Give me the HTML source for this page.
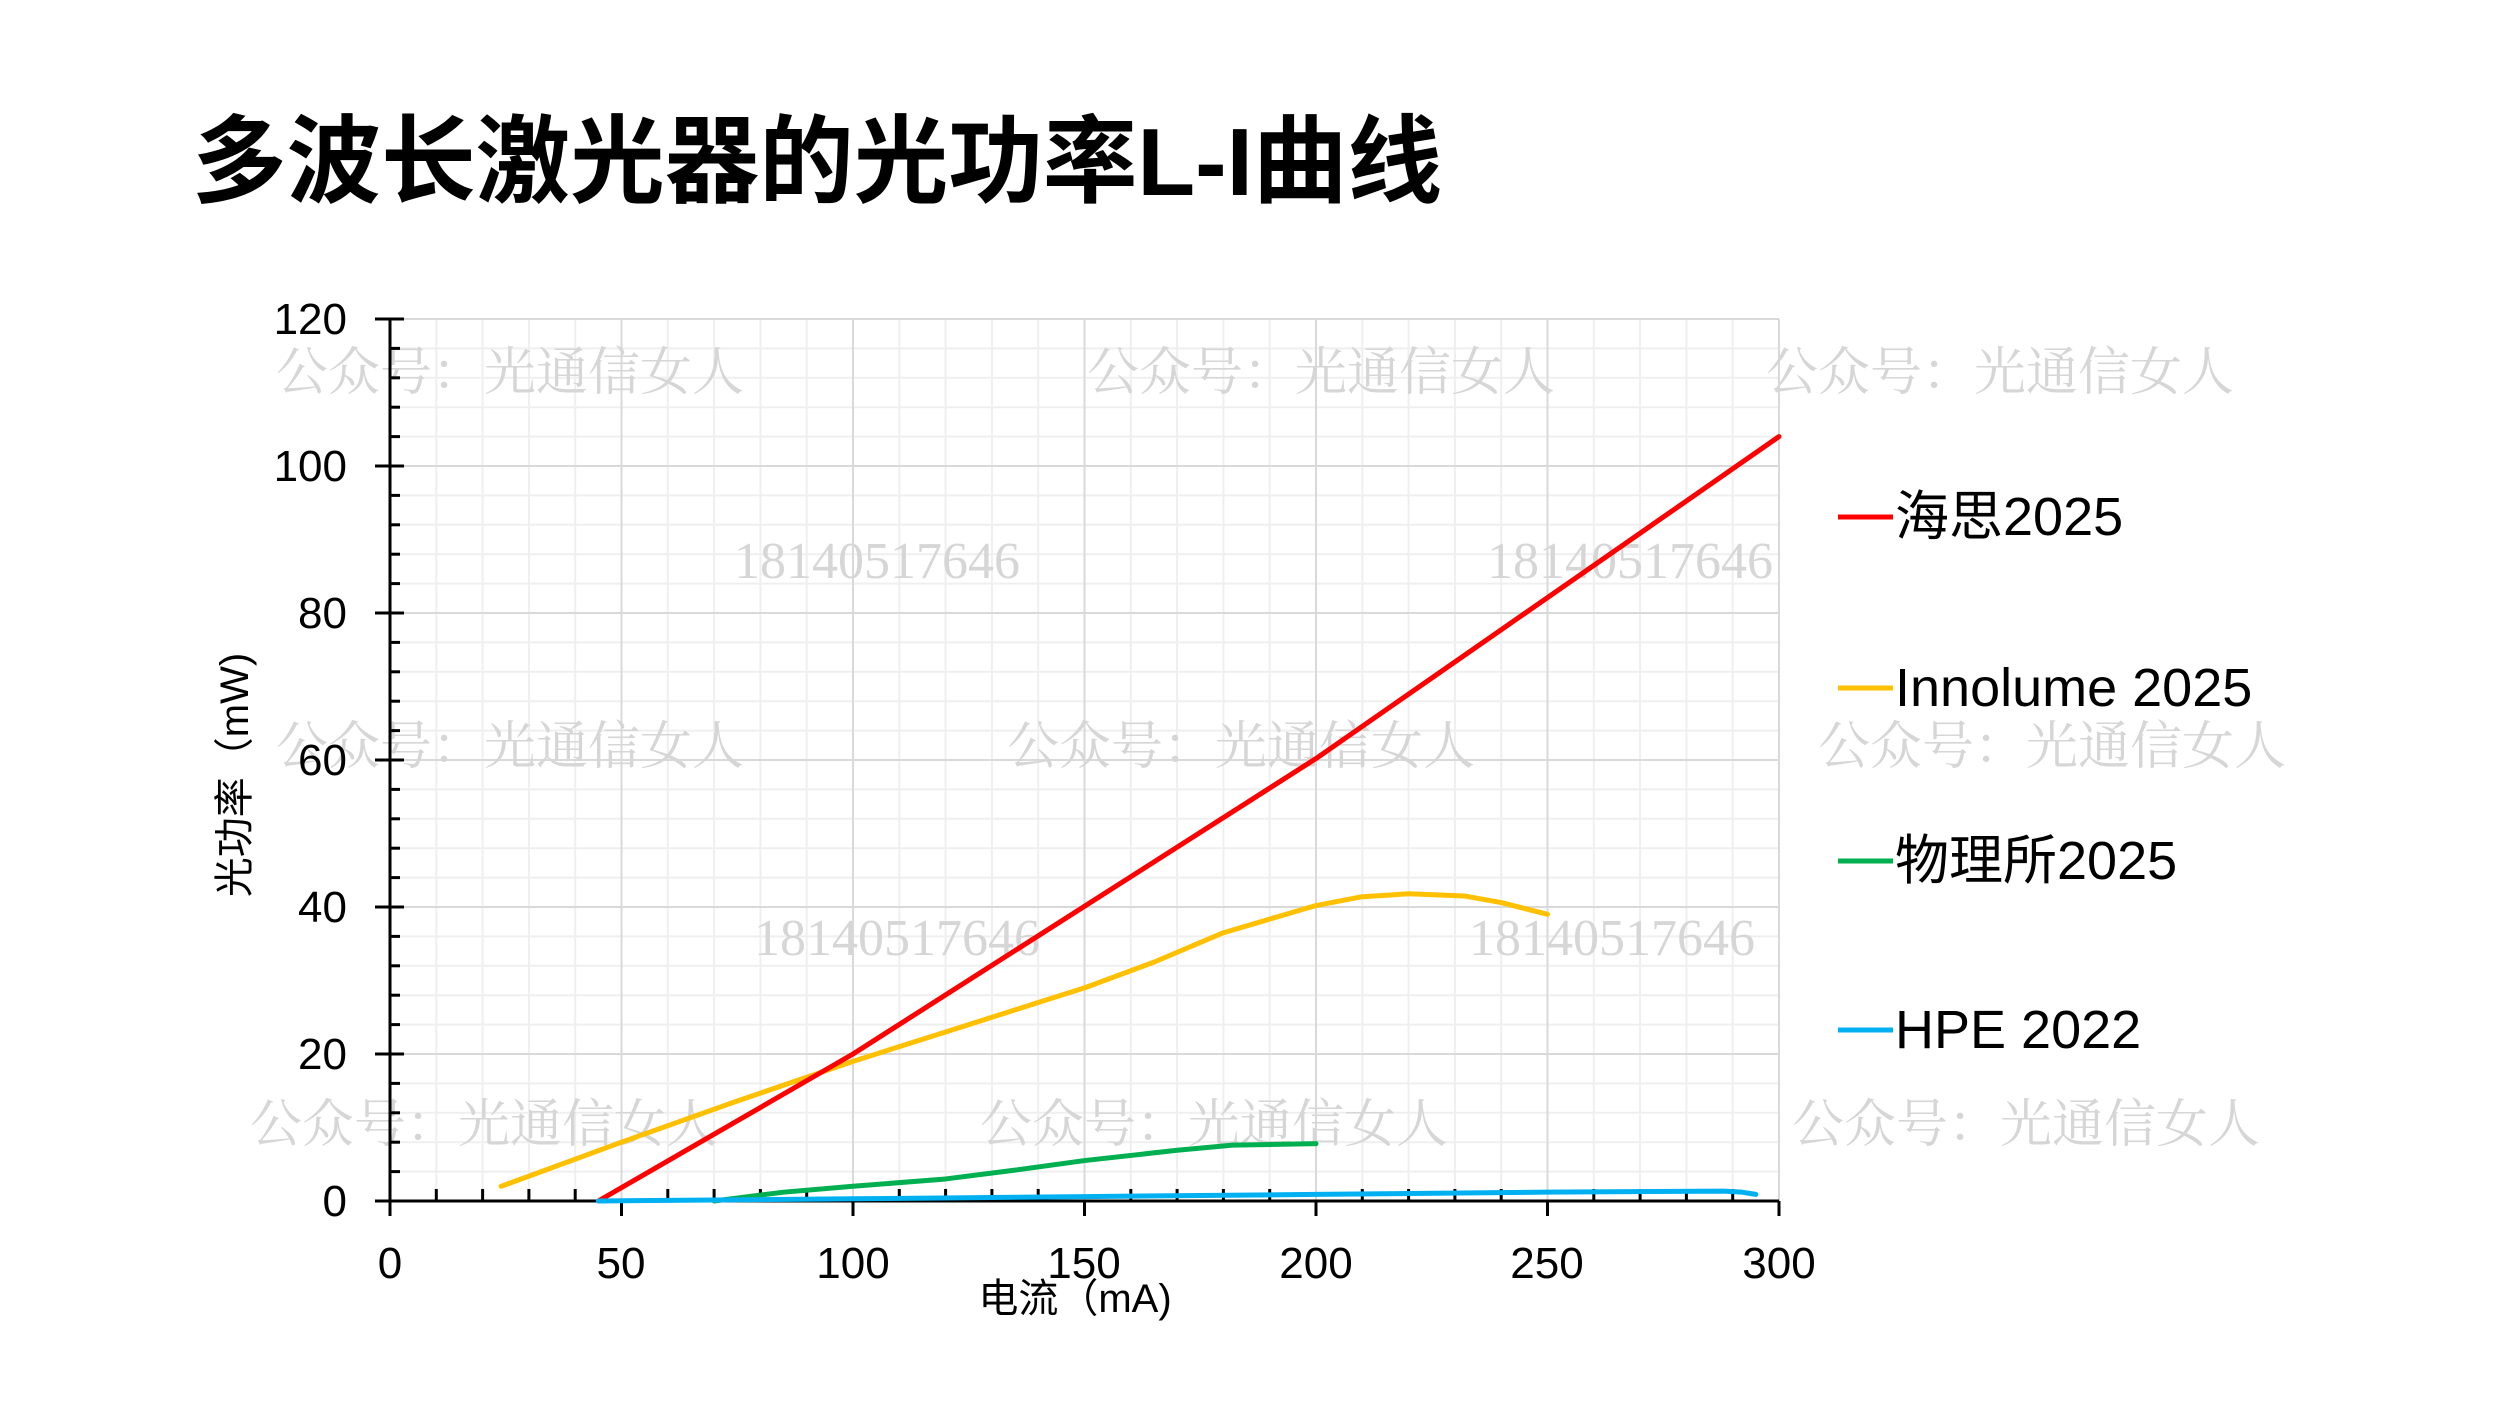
<!DOCTYPE html>
<html><head><meta charset="utf-8"><style>
html,body{margin:0;padding:0;background:#fff;}
svg{display:block;}
</style></head><body>
<svg width="2500" height="1406" viewBox="0 0 2500 1406" xmlns="http://www.w3.org/2000/svg">
<rect width="2500" height="1406" fill="#fff"/>
<text x="192" y="195" textLength="1250" lengthAdjust="spacingAndGlyphs" font-family="'Liberation Sans','Noto Sans CJK SC',sans-serif" font-weight="bold" font-size="96" fill="#000">多波长激光器的光功率L-I曲线</text>
<g stroke="#efefef" stroke-width="2">
<line x1="436.3" y1="319" x2="436.3" y2="1201"/><line x1="482.6" y1="319" x2="482.6" y2="1201"/><line x1="528.9" y1="319" x2="528.9" y2="1201"/><line x1="575.2" y1="319" x2="575.2" y2="1201"/>
<line x1="667.8" y1="319" x2="667.8" y2="1201"/><line x1="714.1" y1="319" x2="714.1" y2="1201"/><line x1="760.4" y1="319" x2="760.4" y2="1201"/><line x1="806.7" y1="319" x2="806.7" y2="1201"/>
<line x1="899.3" y1="319" x2="899.3" y2="1201"/><line x1="945.6" y1="319" x2="945.6" y2="1201"/><line x1="991.9" y1="319" x2="991.9" y2="1201"/><line x1="1038.2" y1="319" x2="1038.2" y2="1201"/>
<line x1="1130.8" y1="319" x2="1130.8" y2="1201"/><line x1="1177.1" y1="319" x2="1177.1" y2="1201"/><line x1="1223.4" y1="319" x2="1223.4" y2="1201"/><line x1="1269.7" y1="319" x2="1269.7" y2="1201"/>
<line x1="1362.3" y1="319" x2="1362.3" y2="1201"/><line x1="1408.6" y1="319" x2="1408.6" y2="1201"/><line x1="1454.9" y1="319" x2="1454.9" y2="1201"/><line x1="1501.2" y1="319" x2="1501.2" y2="1201"/>
<line x1="1593.8" y1="319" x2="1593.8" y2="1201"/><line x1="1640.1" y1="319" x2="1640.1" y2="1201"/><line x1="1686.4" y1="319" x2="1686.4" y2="1201"/><line x1="1732.7" y1="319" x2="1732.7" y2="1201"/>
</g>
<g stroke="#efefef" stroke-width="2">
<line x1="390" y1="348.4" x2="1779" y2="348.4"/><line x1="390" y1="377.8" x2="1779" y2="377.8"/><line x1="390" y1="407.2" x2="1779" y2="407.2"/><line x1="390" y1="436.6" x2="1779" y2="436.6"/>
<line x1="390" y1="495.4" x2="1779" y2="495.4"/><line x1="390" y1="524.8" x2="1779" y2="524.8"/><line x1="390" y1="554.2" x2="1779" y2="554.2"/><line x1="390" y1="583.6" x2="1779" y2="583.6"/>
<line x1="390" y1="642.4" x2="1779" y2="642.4"/><line x1="390" y1="671.8" x2="1779" y2="671.8"/><line x1="390" y1="701.2" x2="1779" y2="701.2"/><line x1="390" y1="730.6" x2="1779" y2="730.6"/>
<line x1="390" y1="789.4" x2="1779" y2="789.4"/><line x1="390" y1="818.8" x2="1779" y2="818.8"/><line x1="390" y1="848.2" x2="1779" y2="848.2"/><line x1="390" y1="877.6" x2="1779" y2="877.6"/>
<line x1="390" y1="936.4" x2="1779" y2="936.4"/><line x1="390" y1="965.8" x2="1779" y2="965.8"/><line x1="390" y1="995.2" x2="1779" y2="995.2"/><line x1="390" y1="1024.6" x2="1779" y2="1024.6"/>
<line x1="390" y1="1083.4" x2="1779" y2="1083.4"/><line x1="390" y1="1112.8" x2="1779" y2="1112.8"/><line x1="390" y1="1142.2" x2="1779" y2="1142.2"/><line x1="390" y1="1171.6" x2="1779" y2="1171.6"/>
</g>
<g stroke="#d9d9d9" stroke-width="2">
<line x1="621.5" y1="319" x2="621.5" y2="1201"/><line x1="853" y1="319" x2="853" y2="1201"/><line x1="1084.5" y1="319" x2="1084.5" y2="1201"/><line x1="1316" y1="319" x2="1316" y2="1201"/><line x1="1547.5" y1="319" x2="1547.5" y2="1201"/><line x1="1779" y1="319" x2="1779" y2="1201"/>
<line x1="390" y1="319" x2="1779" y2="319"/><line x1="390" y1="466" x2="1779" y2="466"/><line x1="390" y1="613" x2="1779" y2="613"/><line x1="390" y1="760" x2="1779" y2="760"/><line x1="390" y1="907" x2="1779" y2="907"/><line x1="390" y1="1054" x2="1779" y2="1054"/>
</g>
<g font-family="'Liberation Serif','Noto Serif CJK SC',serif" font-size="52" fill="#d6d6d6">
<text x="276" y="390">公众号：光通信女人</text>
<text x="1087" y="390">公众号：光通信女人</text>
<text x="1766" y="390">公众号：光通信女人</text>
<text x="276" y="764">公众号：光通信女人</text>
<text x="1007" y="764">公众号：光通信女人</text>
<text x="1818" y="764">公众号：光通信女人</text>
<text x="250" y="1142">公众号：光通信女人</text>
<text x="980" y="1142">公众号：光通信女人</text>
<text x="1792" y="1142">公众号：光通信女人</text>
<text x="734" y="578">18140517646</text>
<text x="1487" y="578">18140517646</text>
<text x="754" y="955">18140517646</text>
<text x="1469" y="955">18140517646</text>
</g>
<g stroke="#000" stroke-width="3">
<line x1="390" y1="319" x2="390" y2="1216"/>
<line x1="375" y1="1201" x2="1779" y2="1201"/>
<line x1="375" y1="319" x2="404" y2="319"/><line x1="375" y1="466" x2="404" y2="466"/><line x1="375" y1="613" x2="404" y2="613"/><line x1="375" y1="760" x2="404" y2="760"/><line x1="375" y1="907" x2="404" y2="907"/><line x1="375" y1="1054" x2="404" y2="1054"/>
<line x1="390" y1="348.4" x2="400" y2="348.4"/><line x1="390" y1="377.8" x2="400" y2="377.8"/><line x1="390" y1="407.2" x2="400" y2="407.2"/><line x1="390" y1="436.6" x2="400" y2="436.6"/>
<line x1="390" y1="495.4" x2="400" y2="495.4"/><line x1="390" y1="524.8" x2="400" y2="524.8"/><line x1="390" y1="554.2" x2="400" y2="554.2"/><line x1="390" y1="583.6" x2="400" y2="583.6"/>
<line x1="390" y1="642.4" x2="400" y2="642.4"/><line x1="390" y1="671.8" x2="400" y2="671.8"/><line x1="390" y1="701.2" x2="400" y2="701.2"/><line x1="390" y1="730.6" x2="400" y2="730.6"/>
<line x1="390" y1="789.4" x2="400" y2="789.4"/><line x1="390" y1="818.8" x2="400" y2="818.8"/><line x1="390" y1="848.2" x2="400" y2="848.2"/><line x1="390" y1="877.6" x2="400" y2="877.6"/>
<line x1="390" y1="936.4" x2="400" y2="936.4"/><line x1="390" y1="965.8" x2="400" y2="965.8"/><line x1="390" y1="995.2" x2="400" y2="995.2"/><line x1="390" y1="1024.6" x2="400" y2="1024.6"/>
<line x1="390" y1="1083.4" x2="400" y2="1083.4"/><line x1="390" y1="1112.8" x2="400" y2="1112.8"/><line x1="390" y1="1142.2" x2="400" y2="1142.2"/><line x1="390" y1="1171.6" x2="400" y2="1171.6"/>
<line x1="621.5" y1="1201" x2="621.5" y2="1216"/><line x1="853" y1="1201" x2="853" y2="1216"/><line x1="1084.5" y1="1201" x2="1084.5" y2="1216"/><line x1="1316" y1="1201" x2="1316" y2="1216"/><line x1="1547.5" y1="1201" x2="1547.5" y2="1216"/><line x1="1779" y1="1201" x2="1779" y2="1216"/>
<line x1="436.3" y1="1201" x2="436.3" y2="1189"/><line x1="482.6" y1="1201" x2="482.6" y2="1189"/><line x1="528.9" y1="1201" x2="528.9" y2="1189"/><line x1="575.2" y1="1201" x2="575.2" y2="1189"/>
<line x1="667.8" y1="1201" x2="667.8" y2="1189"/><line x1="714.1" y1="1201" x2="714.1" y2="1189"/><line x1="760.4" y1="1201" x2="760.4" y2="1189"/><line x1="806.7" y1="1201" x2="806.7" y2="1189"/>
<line x1="899.3" y1="1201" x2="899.3" y2="1189"/><line x1="945.6" y1="1201" x2="945.6" y2="1189"/><line x1="991.9" y1="1201" x2="991.9" y2="1189"/><line x1="1038.2" y1="1201" x2="1038.2" y2="1189"/>
<line x1="1130.8" y1="1201" x2="1130.8" y2="1189"/><line x1="1177.1" y1="1201" x2="1177.1" y2="1189"/><line x1="1223.4" y1="1201" x2="1223.4" y2="1189"/><line x1="1269.7" y1="1201" x2="1269.7" y2="1189"/>
<line x1="1362.3" y1="1201" x2="1362.3" y2="1189"/><line x1="1408.6" y1="1201" x2="1408.6" y2="1189"/><line x1="1454.9" y1="1201" x2="1454.9" y2="1189"/><line x1="1501.2" y1="1201" x2="1501.2" y2="1189"/>
<line x1="1593.8" y1="1201" x2="1593.8" y2="1189"/><line x1="1640.1" y1="1201" x2="1640.1" y2="1189"/><line x1="1686.4" y1="1201" x2="1686.4" y2="1189"/><line x1="1732.7" y1="1201" x2="1732.7" y2="1189"/>
</g>
<g font-family="'Liberation Sans','Noto Sans CJK SC',sans-serif" font-size="44" fill="#000">
<g text-anchor="end">
<text x="347" y="334">120</text><text x="347" y="481">100</text><text x="347" y="628">80</text><text x="347" y="775">60</text><text x="347" y="922">40</text><text x="347" y="1069">20</text><text x="347" y="1216">0</text>
</g>
<g text-anchor="middle">
<text x="390" y="1278">0</text><text x="621" y="1278">50</text><text x="853" y="1278">100</text><text x="1084" y="1278">150</text><text x="1316" y="1278">200</text><text x="1547" y="1278">250</text><text x="1779" y="1278">300</text>
</g>
<text x="1075" y="1312" font-size="40" text-anchor="middle">电流（mA)</text>
<text transform="translate(248,775) rotate(-90)" font-size="40" text-anchor="middle">光功率（mW)</text>
</g>
<g fill="none" stroke-width="5" stroke-linejoin="round" stroke-linecap="round" transform="translate(390,1201) scale(4.63,-7.35)">
<polyline vector-effect="non-scaling-stroke" stroke="#ffc000" points="24,2 50,8 75,13.6 100,19 120,23 140,27 150,29 165,32.5 180,36.5 200,40.2 210,41.4 220,41.8 232,41.5 240,40.6 250,39"/>
<polyline vector-effect="non-scaling-stroke" stroke="#ff0000" points="45,0 100,20 200,60.2 300,104"/>
<polyline vector-effect="non-scaling-stroke" stroke="#00b050" points="70,0 85,1.2 100,2 120,3 135,4.2 150,5.5 170,6.9 182,7.6 200,7.8"/>
<polyline vector-effect="non-scaling-stroke" stroke="#00b0f0" points="45,0 100,0.3 150,0.6 200,0.9 250,1.2 288,1.35 292,1.2 295,0.9"/>
</g>
<g stroke-width="5">
<line x1="1838" y1="517" x2="1893" y2="517" stroke="#ff0000"/>
<line x1="1838" y1="688" x2="1893" y2="688" stroke="#ffc000"/>
<line x1="1838" y1="861" x2="1893" y2="861" stroke="#00b050"/>
<line x1="1838" y1="1030" x2="1893" y2="1030" stroke="#00b0f0"/>
</g>
<g font-family="'Liberation Sans','Noto Sans CJK SC',sans-serif" font-size="54" fill="#000">
<text x="1895" y="535">海思2025</text>
<text x="1895" y="706">Innolume 2025</text>
<text x="1895" y="879">物理所2025</text>
<text x="1895" y="1048">HPE 2022</text>
</g>
</svg>
</body></html>
